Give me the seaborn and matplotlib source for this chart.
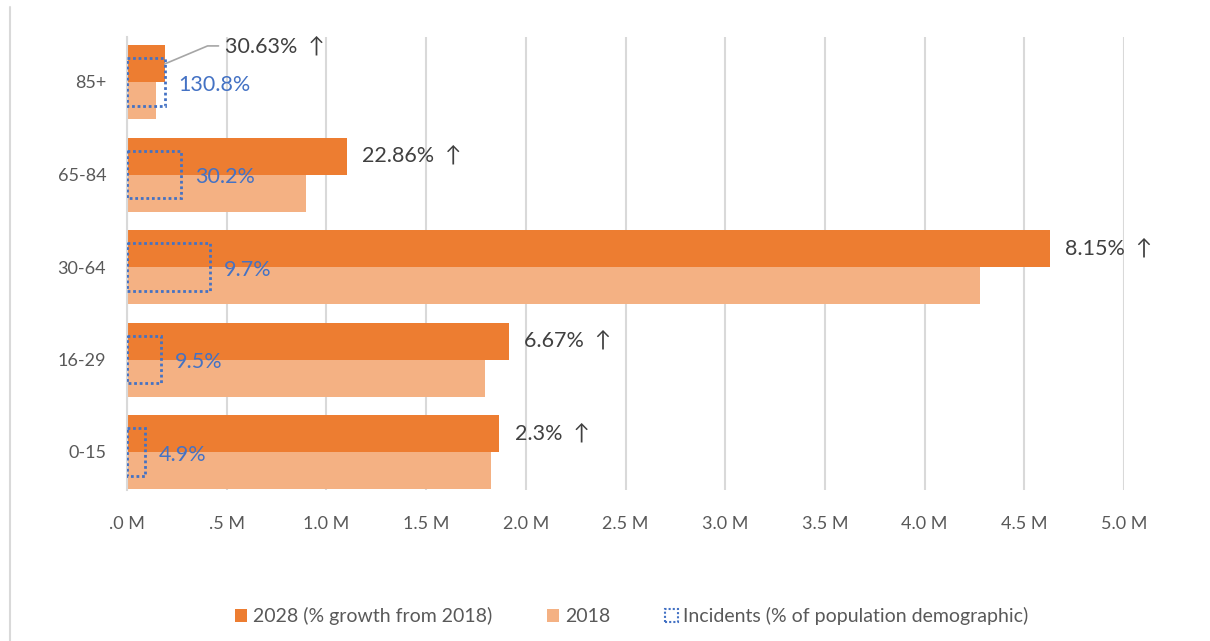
import matplotlib
matplotlib.use("Agg")
import matplotlib.pyplot as plt
from matplotlib.lines import Line2D
from matplotlib.patches import Patch
import seaborn as sns
import pandas as pd

# Population by age group (millions), listed top to bottom
age_groups = ["85+", "65-84", "30-64", "16-29", "0-15"]
pop_2018 = [0.145, 0.898, 4.278, 1.795, 1.825]
pop_2028 = [0.189, 1.103, 4.627, 1.915, 1.867]
growth_labels = ["30.63%", "22.86%", "8.15%", "6.67%", "2.3%"]
incidents = [0.190, 0.271, 0.415, 0.171, 0.089]
incident_labels = ["130.8%", "30.2%", "9.7%", "9.5%", "4.9%"]
x_ticks = [0.0, 0.5, 1.0, 1.5, 2.0, 2.5, 3.0, 3.5, 4.0, 4.5, 5.0]
x_tick_labels = [".0 M", ".5 M", "1.0 M", "1.5 M", "2.0 M", "2.5 M",
                 "3.0 M", "3.5 M", "4.0 M", "4.5 M", "5.0 M"]
series_names = ["2028 (% growth from 2018)", "2018",
                "Incidents (% of population demographic)"]

DARK = "#ED7D31"
LIGHT = "#F4B183"
BLUE = "#4472C4"
GRID = "#D9D9D9"
TEXT = "#595959"

sns.set_theme(style="white")
plt.rcParams["font.family"] = ["Lato", "DejaVu Sans"]

df = pd.DataFrame({
    "age": age_groups * 2,
    "pop": pop_2028 + pop_2018,
    "series": [series_names[0]] * 5 + [series_names[1]] * 5,
})

fig = plt.figure(figsize=(12.1, 6.41), dpi=100)
ax = fig.add_axes([127 / 1210, 1 - 490 / 641, (1124 - 127) / 1210, (490 - 37) / 641])

sns.barplot(data=df, y="age", x="pop", hue="series", order=age_groups,
            hue_order=series_names[:2], palette=[DARK, LIGHT], orient="h",
            width=0.8, saturation=1, linewidth=0, legend=False, ax=ax, zorder=2)

sns.barplot(x=incidents, y=age_groups, order=age_groups, orient="h",
            color=BLUE, fill=False, width=0.51, saturation=1,
            linewidth=2, linestyle=(0, (1, 1)), ax=ax, zorder=3)

ax.set_xlim(0, 5.0)
ax.set_ylim(4 + 38 / 92.5, -45 / 92.5)
ax.set_xticks(x_ticks)
ax.set_xticklabels(x_tick_labels)
ax.set_xlabel("")
ax.set_ylabel("")
ax.tick_params(axis="x", length=0, pad=19, labelsize=13, labelcolor=TEXT)
ax.tick_params(axis="y", length=0, pad=15, labelsize=13, labelcolor=TEXT)
ax.grid(axis="x", color=GRID, linewidth=1.5, zorder=0)
ax.set_axisbelow(True)
for side in ["top", "right", "bottom"]:
    ax.spines[side].set_visible(False)
ax.spines["left"].set_color(GRID)
ax.spines["left"].set_linewidth(1.5)

# growth labels beside the 2028 bars
for i, (v, lab) in enumerate(zip(pop_2028, growth_labels)):
    text = f"{lab}  \u2191"
    if i == 0:
        # small bar: label lifted above with a leader line
        y0 = i - 0.195
        y1 = i - 0.39
        ax.plot([v, v + 0.215, v + 0.27], [y0, y1, y1], color="#A6A6A6",
                linewidth=1.2, zorder=4, clip_on=False)
        ax.text(v + 0.30, y1 + 0.01, text, va="center", ha="left",
                fontsize=15.5, color="#404040")
    else:
        ax.annotate(text, xy=(v, i - 0.2), xytext=(11, 0),
                    textcoords="offset points", va="center", ha="left",
                    fontsize=15.5, color="#404040")

# incident share labels beside the dotted boxes
for i, (v, lab) in enumerate(zip(incidents, incident_labels)):
    ax.annotate(lab, xy=(v, i + 0.03), xytext=(10, 0),
                textcoords="offset points", va="center", ha="left",
                fontsize=15.5, color=BLUE)

handles = [
    Patch(facecolor=DARK, edgecolor="none"),
    Patch(facecolor=LIGHT, edgecolor="none"),
    Patch(facecolor="none", edgecolor=BLUE, linestyle=(0, (1, 1)), linewidth=1.5),
]
fig.legend(handles, series_names, loc="center", bbox_to_anchor=(0.522, 1 - 616 / 641),
           ncol=3, frameon=False, fontsize=14, handlelength=0.65, handleheight=0.65,
           handletextpad=0.3, columnspacing=2.8, labelcolor=TEXT)

# chart frame edge on the left
fig.add_artist(Line2D([10 / 1210, 10 / 1210], [0, 1 - 7 / 641],
                      transform=fig.transFigure, color=GRID, linewidth=1.5))

fig.savefig("out.png", dpi=100)
